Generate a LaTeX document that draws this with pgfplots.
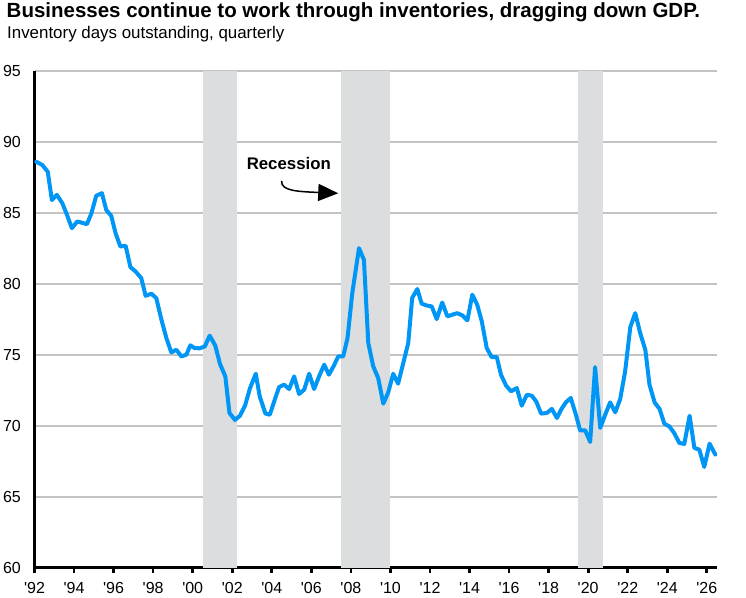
\documentclass[border=0pt]{standalone}
\usepackage{fontspec}
\setmainfont{Liberation Sans}
\usepackage{pgfplots}
\pgfplotsset{compat=1.18}
\usetikzlibrary{arrows.meta}
\definecolor{lineblue}{RGB}{0,150,245}
\definecolor{recgray}{RGB}{220,221,223}
\definecolor{gridgray}{RGB}{196,196,196}
\begin{document}
\begin{tikzpicture}[x=1pt,y=1pt]
\useasboundingbox (0,0) rectangle (746,597);
\node[anchor=base west, inner sep=0, font=\bfseries\fontsize{20.5}{20.5}\selectfont] at (6.5,579.5) {Businesses continue to work through inventories, dragging down GDP.};
\node[anchor=base west, inner sep=0, font=\fontsize{16.9}{16.9}\selectfont] at (7,558) {Inventory days outstanding, quarterly};
\begin{axis}[
  at={(34.5pt,29.5pt)}, anchor=south west,
  scale only axis, width=682.2pt, height=496.5pt,
  xmin=1992, xmax=2026.5, ymin=60, ymax=95,
  axis lines=left,
  axis line style={line width=2.7pt, black, -},
  xtick={1992,1994,...,2026},
  xticklabels={\textquotesingle92,\textquotesingle94,\textquotesingle96,\textquotesingle98,\textquotesingle00,\textquotesingle02,\textquotesingle04,\textquotesingle06,\textquotesingle08,\textquotesingle10,\textquotesingle12,\textquotesingle14,\textquotesingle16,\textquotesingle18,\textquotesingle20,\textquotesingle22,\textquotesingle24,\textquotesingle26},
  ytick={60,65,...,95},
  ymajorgrids,
  grid style={gridgray, line width=2pt},
  tick align=outside,
  major tick length=5pt,
  xtick style={black, line width=2.7pt},
  ytick style={draw=none},
  ticklabel style={font=\fontsize{16}{16}\selectfont},
  /pgf/number format/assume math mode=true,
  xticklabel style={anchor=north, inner sep=0pt, yshift=-10pt},
  yticklabel style={anchor=east, inner sep=0pt, xshift=-8.5pt},
  clip=false,
]
\fill[recgray] (axis cs:2000.5,60) rectangle (axis cs:2002.25,95);
\fill[recgray] (axis cs:2007.5,60) rectangle (axis cs:2010.0,95);
\fill[recgray] (axis cs:2019.5,60) rectangle (axis cs:2020.75,95);
\addplot[lineblue, line width=4pt, line join=round, line cap=round, mark=none] coordinates {
(1992.09,88.6) (1992.39,88.38) (1992.67,87.9) (1992.88,85.9) (1993.13,86.27)
(1993.40,85.7) (1993.61,84.98) (1993.89,83.92) (1994.16,84.39) (1994.41,84.3)
(1994.65,84.2) (1994.87,84.93) (1995.12,86.2) (1995.41,86.39) (1995.63,85.2)
(1995.88,84.79) (1996.10,83.57) (1996.34,82.63) (1996.61,82.68) (1996.85,81.18)
(1997.11,80.87) (1997.40,80.4) (1997.62,79.15) (1997.91,79.3) (1998.16,78.99)
(1998.42,77.46) (1998.67,76.17) (1998.92,75.16) (1999.17,75.35) (1999.43,74.88)
(1999.68,75.0) (1999.88,75.66) (2000.10,75.47) (2000.35,75.45) (2000.61,75.58)
(2000.86,76.34) (2001.14,75.65) (2001.38,74.35) (2001.65,73.47) (2001.86,70.89)
(2002.14,70.4) (2002.39,70.7) (2002.65,71.42) (2002.90,72.65) (2003.19,73.66)
(2003.39,72.06) (2003.68,70.85) (2003.90,70.77) (2004.15,71.83) (2004.37,72.72)
(2004.62,72.89) (2004.88,72.58) (2005.13,73.47) (2005.38,72.23) (2005.64,72.54)
(2005.89,73.66) (2006.14,72.58) (2006.39,73.47) (2006.65,74.3) (2006.89,73.59)
(2007.14,74.23) (2007.36,74.88) (2007.61,74.88) (2007.83,76.17) (2008.07,79.34)
(2008.41,82.51) (2008.66,81.69) (2008.88,75.82) (2009.13,74.18) (2009.38,73.36)
(2009.64,71.55) (2009.89,72.35) (2010.14,73.66) (2010.39,72.96) (2010.65,74.42)
(2010.90,75.82) (2011.10,79.0) (2011.36,79.63) (2011.58,78.6) (2011.83,78.47)
(2012.09,78.4) (2012.34,77.51) (2012.62,78.68) (2012.88,77.7) (2013.13,77.82)
(2013.38,77.93) (2013.64,77.77) (2013.89,77.42) (2014.14,79.23) (2014.39,78.52)
(2014.62,77.35) (2014.87,75.47) (2015.12,74.83) (2015.38,74.83) (2015.59,73.59)
(2015.85,72.82) (2016.10,72.42) (2016.39,72.65) (2016.64,71.41) (2016.90,72.18)
(2017.15,72.11) (2017.37,71.71) (2017.62,70.85) (2017.91,70.89) (2018.16,71.18)
(2018.42,70.54) (2018.63,71.13) (2018.87,71.64) (2019.12,71.95) (2019.38,70.77)
(2019.59,69.67) (2019.85,69.67) (2020.10,68.85) (2020.35,74.13) (2020.61,69.84)
(2020.86,70.77) (2021.11,71.64) (2021.37,70.94) (2021.62,71.88) (2021.87,73.83)
(2022.13,76.95) (2022.38,77.93) (2022.63,76.53) (2022.89,75.35) (2023.10,72.89)
(2023.36,71.64) (2023.61,71.18) (2023.85,70.14) (2024.10,69.95) (2024.35,69.48)
(2024.61,68.78) (2024.86,68.71) (2025.13,70.7) (2025.37,68.43) (2025.62,68.31)
(2025.87,67.09) (2026.14,68.73) (2026.43,67.96)
};
\node[anchor=base, inner sep=0, font=\bfseries\fontsize{16.8}{16.8}\selectfont] at (axis cs:2004.86,88.07) {Recession};
\draw[black, line width=1.5pt, -{Triangle[length=20pt,width=17pt]}] (axis cs:2004.5,87.25) .. controls (axis cs:2004.45,86.55) and (axis cs:2005.3,86.5) .. (axis cs:2007.36,86.38);
\end{axis}
\end{tikzpicture}
\end{document}
